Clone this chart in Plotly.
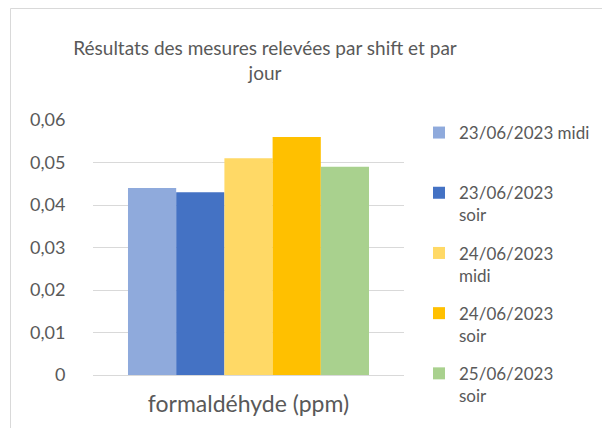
import plotly.graph_objects as go

categories = ["formaldéhyde (ppm)"]
series_names = ["23/06/2023 midi", "23/06/2023<br>soir", "24/06/2023<br>midi",
                "24/06/2023<br>soir", "25/06/2023<br>soir"]
series_values = [[0.044], [0.043], [0.051], [0.056], [0.049]]
colors = ["#8FAADC", "#4472C4", "#FFD966", "#FFC000", "#A9D18E"]
y_ticks = [0, 0.01, 0.02, 0.03, 0.04, 0.05, 0.06]
y_tick_labels = ["0", "0,01", "0,02", "0,03", "0,04", "0,05", "0,06"]

FONT = "Lato"
TXT = "#595959"

# figure is placed at (8, 8) by the browser's default body margin
W, H = 602, 420
L, R, T, B = 85, 206, 112, 53
PW, PH = W - L - R, H - T - B

fig = go.Figure()
for i, (name, vals, col) in enumerate(zip(series_names, series_values, colors)):
    label = name if "<br>" in name else name + "<br> "
    fig.add_trace(go.Bar(x=categories, y=vals, name=label, marker_color=col,
                         marker_line_width=0, legendgroup=str(i)))

fig.update_layout(
    width=W, height=H,
    margin=dict(l=L, r=R, t=T, b=B, autoexpand=False),
    paper_bgcolor="white", plot_bgcolor="white",
    barmode="group", bargap=0.225, bargroupgap=0,
    font=dict(family=FONT, color=TXT),
    title=dict(text="Résultats des mesures relevées par shift et par<br>jour",
               x=257 / W, xanchor="center", y=1 - 47 / H, yanchor="middle",
               font=dict(size=19, color=TXT, family=FONT)),
    legend=dict(x=(411 - L) / PW, xanchor="left", y=1 + 5 / PH, yanchor="top",
                font=dict(size=17, color=TXT, family=FONT),
                valign="top", tracegroupgap=13, itemwidth=30, maxheight=400,
                bgcolor="rgba(0,0,0,0)"),
    showlegend=True,
)
fig.update_yaxes(range=[0, 0.06], tickvals=y_ticks, ticktext=y_tick_labels,
                 showgrid=True, gridcolor="#D9D9D9", gridwidth=1.3,
                 zeroline=False, showline=False,
                 ticks="outside", ticklen=23, tickcolor="rgba(0,0,0,0)",
                 tickfont=dict(size=18, color=TXT, family=FONT))
fig.update_xaxes(showline=True, linecolor="#D9D9D9", linewidth=1.3,
                 ticks="outside", ticklen=8, tickcolor="rgba(0,0,0,0)",
                 tickfont=dict(size=23, color=TXT, family=FONT))

# chart area border (left and top edges)
bx = (2.5 - L) / PW
by = (T + PH - 0.5) / PH
fig.add_shape(type="line", xref="paper", yref="paper",
              x0=bx, x1=bx, y0=by, y1=-B / PH - 0.1,
              line=dict(color="#D9D9D9", width=1))
fig.add_shape(type="line", xref="paper", yref="paper",
              x0=bx, x1=(W + 10 - L) / PW, y0=by, y1=by,
              line=dict(color="#D9D9D9", width=1))

fig.write_html("out.html")
